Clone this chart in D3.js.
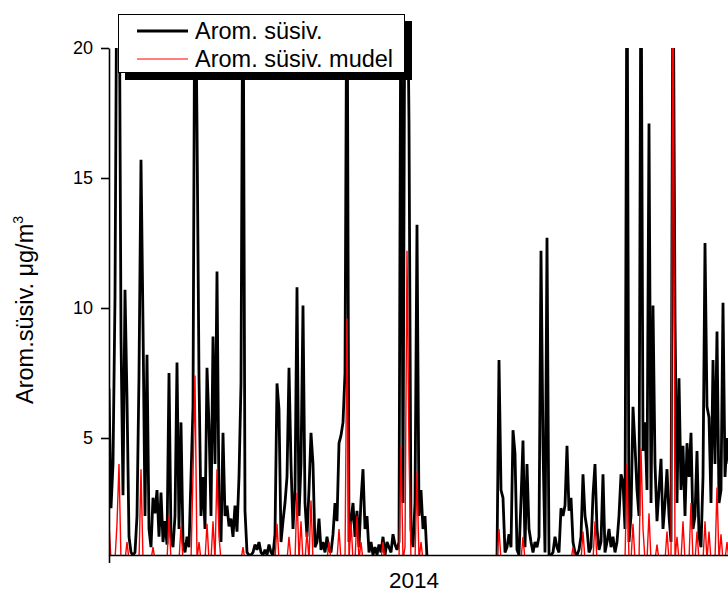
<!DOCTYPE html>
<html><head><meta charset="utf-8">
<script src="https://cdn.jsdelivr.net/npm/d3@7/dist/d3.min.js"></script>
<style>
body{margin:0;background:#fff;}
svg text{font-family:"Liberation Sans",Arial,sans-serif;fill:#000;}
</style></head>
<body>
<svg id="chart" width="728" height="592"></svg>
<script>
// Measured aromatic hydrocarbons (black), evenly spaced samples over 2014
const measured = [
6.9,2.3,4.0,10.4,25,25,8.9,2.8,10.7,6.5,
1.2,0.6,0.5,0.6,2.0,7.4,15.7,9.4,2.0,8.2,
1.5,0.8,2.7,2.1,3.0,1.2,2.9,1.0,1.8,0.9,
7.5,1.2,0.8,2.0,7.9,1.5,5.6,1.0,0.6,1.2,
0.8,3.5,6.2,25,17.0,7.3,2.0,3.5,1.5,7.7,
5.5,2.0,8.9,4.0,11.4,2.5,1.0,5.2,2.0,2.4,
1.6,1.9,1.2,2.4,1.4,3.5,7.1,25,2.2,0.6,
0.5,0.5,0.6,0.9,0.7,1.0,0.6,0.5,0.7,0.5,
0.9,0.6,0.5,1.3,7.1,6.1,1.0,1.8,2.5,3.5,
7.7,4.0,1.5,3.0,10.8,2.0,4.0,10.1,2.5,1.2,
3.0,5.2,4.0,0.8,1.0,1.9,0.7,1.0,0.6,1.2,
0.7,0.6,1.3,2.5,1.8,4.8,5.1,5.6,7.5,25,
1.0,1.8,2.5,1.2,2.2,0.8,2.6,3.8,1.5,2.0,
0.6,1.0,0.5,0.8,0.5,0.9,0.6,1.2,0.5,1.0,
0.8,0.6,1.3,0.9,0.7,1.0,25,2.5,25,25,
17.1,1.5,0.8,2.5,13.2,2.0,3.0,1.5,2.0,0.4,
0.4,0.4,0.4,0.4,0.4,0.4,0.4,0.4,0.4,0.4,
0.4,0.4,0.4,0.4,0.4,0.4,0.4,0.4,0.4,0.4,
0.4,0.4,0.4,0.4,0.4,0.4,0.4,0.4,0.4,0.4,
0.4,0.4,0.4,0.4,0.4,8.0,3.0,2.7,0.6,0.8,
1.3,0.8,5.3,4.4,0.7,0.5,2.6,4.9,0.8,4.0,
1.5,1.0,0.6,1.0,0.8,1.2,12.2,4.7,0.6,12.7,
0.5,0.5,0.6,1.2,0.8,0.6,2.3,2.0,2.4,4.7,
2.2,2.7,1.0,0.6,0.5,0.7,1.2,3.6,2.0,1.5,
0.6,0.8,2.8,4.0,1.5,0.7,1.0,3.6,0.6,1.0,
1.5,0.8,1.2,0.6,1.0,2.0,3.6,3.3,1.5,25,
1.0,2.0,6.2,4.7,3.0,2.0,25,4.5,5.6,3.0,
17.1,2.5,10.1,4.0,1.8,3.0,4.2,1.5,2.5,3.8,
2.0,1.0,25,9.7,2.5,7.3,3.0,4.7,2.0,4.8,
3.5,5.2,1.5,2.0,4.5,1.2,0.8,3.5,12.5,6.2,
5.8,2.5,8.0,4.0,9.1,2.5,3.0,10.2,3.5,5.0,4.0
];
// Model values (red)
const model = [
1.7,0.3,0.3,0.3,1.7,4.0,0.3,0.3,0.3,1.0,
0.3,0.3,0.3,0.3,0.3,0.3,3.8,0.3,0.3,0.3,
0.3,0.3,0.8,0.3,0.3,0.3,0.3,0.3,0.3,0.3,
2.0,0.3,0.3,0.3,0.3,0.3,1.6,0.3,0.3,0.3,
0.3,0.3,3.6,7.4,0.3,1.0,0.3,0.3,0.3,1.7,
0.3,0.3,1.8,0.3,3.8,1.2,0.3,0.3,0.3,0.3,
0.3,0.3,0.3,0.3,0.3,0.3,0.3,0.8,0.3,0.3,
0.3,0.3,0.3,0.3,0.3,0.3,0.3,0.3,0.3,0.3,
0.3,0.3,0.3,0.3,1.7,0.3,0.3,0.3,0.3,0.3,
1.2,0.3,0.3,0.3,2.9,0.3,1.8,0.3,0.3,1.4,
0.3,2.6,0.3,0.3,0.3,0.3,0.3,0.3,0.3,0.3,
1.0,0.3,0.3,0.3,0.3,1.5,0.3,0.3,0.3,9.6,
0.3,1.8,0.3,0.3,2.0,0.3,1.0,0.3,0.3,0.3,
0.3,0.3,0.3,0.3,0.3,0.3,0.3,1.0,0.3,0.3,
0.3,0.3,0.3,0.3,0.3,0.3,4.7,0.3,0.8,12.2,
4.5,0.3,0.3,0.3,3.7,0.3,1.0,0.3,0.3,0.3,
0.3,0.3,0.3,0.3,0.3,0.3,0.3,0.3,0.3,0.3,
0.3,0.3,0.3,0.3,0.3,0.3,0.3,0.3,0.3,0.3,
0.3,0.3,0.3,0.3,0.3,0.3,0.3,0.3,0.3,0.3,
0.3,0.3,0.3,0.3,0.3,1.5,0.3,0.3,0.3,0.3,
0.3,0.3,0.3,0.3,0.3,0.3,0.3,1.2,0.3,0.3,
0.3,0.3,0.3,0.3,0.3,0.3,0.3,0.3,0.3,0.3,
0.3,0.3,0.3,0.3,0.3,0.3,0.3,0.3,0.3,0.3,
0.3,0.3,0.8,0.3,0.3,0.3,0.3,1.4,0.3,0.3,
0.3,0.3,0.3,1.8,0.3,0.3,0.3,0.3,0.3,0.3,
0.3,0.3,0.3,0.3,0.3,0.3,0.3,0.3,0.3,4.0,
0.3,0.3,1.7,0.3,0.3,0.3,4.6,1.5,0.3,0.3,
2.1,0.3,0.3,0.3,0.9,0.3,0.3,0.3,0.3,1.4,
0.3,0.3,25,0.3,1.2,0.3,0.3,1.8,0.3,0.3,
0.3,2.5,0.3,0.3,1.4,0.3,0.3,0.3,1.8,0.3,
1.4,0.3,0.3,0.3,3.1,0.3,1.3,0.3,0.3,1.0,0.3
];
const yTicks = [5, 10, 15, 20];
const yDomain = [0.5, 20];
const xTickLabel = "2014";
const yTitle = "Arom.süsiv. \u03bcg/m";
const seriesNames = ["Arom. süsiv.", "Arom. süsiv. mudel"];
const seriesColors = ["#000000", "#ff0000"];

const svg = d3.select("#chart");
const mLeft = 109, mRight = 729, mTop = 48, mBottom = 555;

const x = d3.scaleLinear().domain([0, measured.length - 1]).range([mLeft, mRight]);
const y = d3.scaleLinear().domain(yDomain).range([mBottom, mTop]);

svg.append("defs").append("clipPath").attr("id", "clip")
  .append("rect").attr("x", mLeft).attr("y", mTop).attr("width", mRight - mLeft + 5).attr("height", mBottom - mTop);

const line = d3.line().x((d, i) => x(i)).y(d => y(d));

const g = svg.append("g").attr("clip-path", "url(#clip)");
g.append("path").datum(measured).attr("d", line)
  .attr("fill", "none").attr("stroke", seriesColors[0]).attr("stroke-width", 2.8).attr("stroke-linejoin", "miter").attr("stroke-miterlimit", 1);
g.append("path").datum(model).attr("d", line)
  .attr("fill", "none").attr("stroke", seriesColors[1]).attr("stroke-width", 1.4).attr("stroke-miterlimit", 1);

// Y axis
const yAxis = d3.axisLeft(y).tickValues(yTicks).tickSize(8).tickSizeOuter(0).tickPadding(8).tickFormat(d3.format("d"));
const ya = svg.append("g").attr("transform", `translate(${mLeft},0)`).call(yAxis);
ya.select(".domain").attr("stroke-width", 1.6);
ya.selectAll(".tick line").attr("stroke-width", 1.6);
ya.selectAll(".tick text").attr("font-size", 18).attr("font-family", "Liberation Sans, Arial, sans-serif");

// X axis
const xAxis = d3.axisBottom(x).tickValues([0]).tickSize(8).tickSizeOuter(0).tickFormat("");
const xa = svg.append("g").attr("transform", `translate(0,${mBottom})`).call(xAxis);
xa.select(".domain").attr("stroke-width", 1.6);
xa.selectAll(".tick line").attr("stroke-width", 1.6);

svg.append("text").attr("x", 414).attr("y", 588).attr("text-anchor", "middle")
  .attr("font-size", 22.5).text(xTickLabel);

const yt = svg.append("text").attr("transform", "translate(33,310) rotate(-90)")
  .attr("text-anchor", "middle").attr("font-size", 23.5);
yt.append("tspan").text(yTitle);
yt.append("tspan").attr("font-size", 14).attr("dy", -10).text("3");

// Legend
const lg = svg.append("g");
lg.append("rect").attr("x", 125).attr("y", 21).attr("width", 287).attr("height", 59).attr("fill", "#000");
lg.append("rect").attr("x", 118.5).attr("y", 14.5).attr("width", 286).attr("height", 58)
  .attr("fill", "#fff").attr("stroke", "#000").attr("stroke-width", 1);
const rows = [0, 1];
lg.selectAll("line.lg").data(rows).enter().append("line")
  .attr("x1", 137).attr("x2", 188)
  .attr("y1", d => 31 + d * 28).attr("y2", d => 31 + d * 28)
  .attr("stroke", d => seriesColors[d]).attr("stroke-width", d => d === 0 ? 3 : 1.2);
lg.selectAll("text.lg").data(rows).enter().append("text")
  .attr("x", 195).attr("y", d => 39 + d * 28).attr("font-size", 23.5)
  .text(d => seriesNames[d]);
</script>
</body></html>
